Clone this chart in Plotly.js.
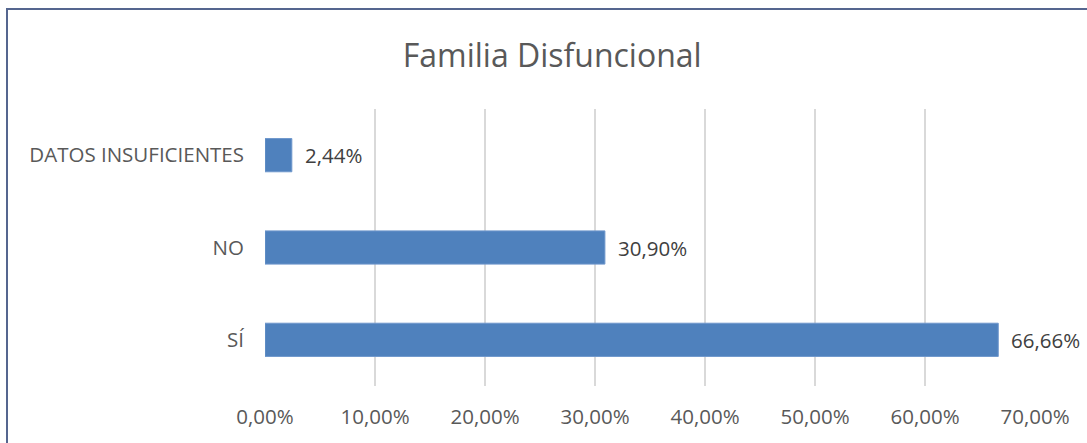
<!DOCTYPE html>
<html>
<head>
<meta charset="utf-8">
<script src="https://cdn.plot.ly/plotly-3.0.1.min.js"></script>
<style>
html,body{margin:0;padding:0;background:#fff;overflow:hidden;}
#chart{width:1087px;height:443px;}
</style>
</head>
<body>
<div id="chart"></div>
<script>
const categories = ['SÍ', 'NO', 'DATOS INSUFICIENTES'];
const values = [66.66, 30.90, 2.44];
const xTicks = [0, 10, 20, 30, 40, 50, 60, 70];
const xTickLabels = ['0,00%', '10,00%', '20,00%', '30,00%', '40,00%', '50,00%', '60,00%', '70,00%'];
const title = 'Familia Disfuncional';

const fontFam = 'Open Sans, Lato, sans-serif';
const fmt = v => v.toFixed(2).replace('.', ',') + '%';

const trace = {
  type: 'bar',
  orientation: 'h',
  y: categories,
  x: values,
  width: 0.36,
  marker: {color: '#4f81bd', line: {color: '#6f97cc', width: 1}},
  hoverinfo: 'skip'
};

const annotations = values.map((v, i) => ({
  x: v, y: categories[i], xref: 'x', yref: 'y',
  text: fmt(v), showarrow: false, xanchor: 'left', yanchor: 'middle',
  xshift: 11, font: {family: fontFam, size: 20.5, color: '#404040'}
}));

const W = 770, H = 277, L = 265, T = 109;
const px2x = p => (p - L) / W;
const py2y = p => (T + H - p) / H;

const layout = {
  width: 1087, height: 443,
  margin: {l: L, r: 1087 - L - W, t: T, b: 443 - T - H},
  paper_bgcolor: '#ffffff', plot_bgcolor: '#ffffff',
  showlegend: false,
  title: {text: title, x: 0.508, xanchor: 'center', y: 0.875, yanchor: 'middle',
          font: {family: fontFam, size: 32, color: '#595959'}},
  xaxis: {
    range: [0, 70], tickmode: 'array', tickvals: xTicks, ticktext: xTickLabels,
    showgrid: true, gridcolor: '#d9d9d9', gridwidth: 1.5, zeroline: false,
    showline: false, ticks: '', ticklabelstandoff: 16,
    tickfont: {family: fontFam, size: 20.5, color: '#595959'}, fixedrange: true
  },
  yaxis: {
    type: 'category', categoryorder: 'array', categoryarray: categories,
    range: [-0.5, 2.5], showgrid: false, zeroline: false, showline: false,
    ticks: '', ticklabelstandoff: 20,
    tickfont: {family: fontFam, size: 20.5, color: '#595959'}, fixedrange: true
  },
  annotations: annotations,
  shapes: [{
    type: 'rect', xref: 'paper', yref: 'paper',
    x0: px2x(7), x1: px2x(1110), y0: py2y(470), y1: py2y(9),
    line: {color: '#55668f', width: 2}, fillcolor: 'rgba(0,0,0,0)', layer: 'below'
  }]
};

Plotly.newPlot('chart', [trace], layout, {displayModeBar: false, staticPlot: true});
</script>
</body>
</html>
